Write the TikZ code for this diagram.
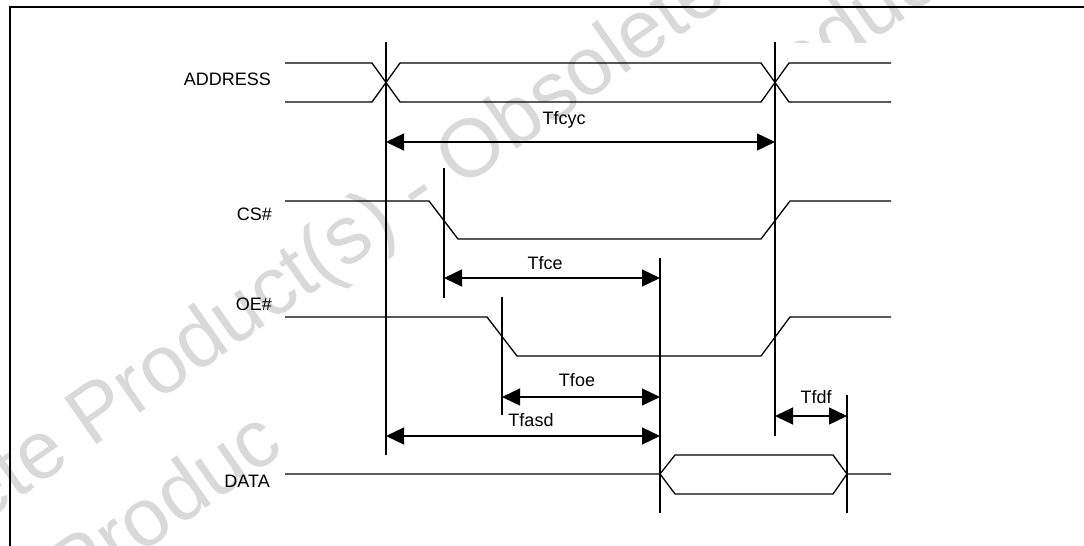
\documentclass[tikz,border=0pt]{standalone}
\usepackage{fontspec}
\setmainfont{Liberation Sans}
\usetikzlibrary{arrows.meta}

\begin{document}
\begin{tikzpicture}[x=1pt,y=-1pt,
  sig/.style={line width=1.3pt, line join=miter},
  vline/.style={line width=1.2pt},
  dim/.style={line width=1.3pt, {Triangle[length=18pt,width=17pt]}-{Triangle[length=18pt,width=17pt]}},
  lbl/.style={inner sep=0pt, font=\fontsize{18}{20}\selectfont, anchor=base east},
  tlbl/.style={inner sep=0pt, font=\fontsize{18}{20}\selectfont, anchor=base},
  wm/.style={inner sep=0pt, anchor=base west, text=black!15, rotate=35, font=\fontsize{82}{84}\selectfont}
]
\useasboundingbox (0,0) rectangle (1084,546);

% watermark, first line
\begin{scope}
  \clip (0,0) rectangle (1084,546);
  \node[wm] (wmA) at (-196.5,649.5) {Obsolete Product(s) - Obsolete Product(s)};
\end{scope}
% watermark, second line (only partly shown)
\begin{scope}
  \clip (0,0) rectangle (285,546);
  \begin{scope}[shift={(-214,802.5)}, rotate=35]
    \clip (-300,-200) rectangle (611,100);
    \node[wm] (wmB1) at (0,0) {Obsolete Product(s) - Obsolete Product(s)};
  \end{scope}
\end{scope}
\begin{scope}
  \clip (285,0) rectangle (1084,42);
  \node[wm] (wmB2) at (-214,802.5) {Obsolete Product(s) - Obsolete Product(s)};
\end{scope}
\begin{scope}
  \clip (891,42) rectangle (1084,546);
  \node[wm] (wmB3) at (-214,802.5) {Obsolete Product(s) - Obsolete Product(s)};
\end{scope}

% frame
\draw[line width=2.2pt] (10,546) -- (10,7) -- (1084,7);

% vertical reference lines
\coordinate (v1t) at (386,42);  \coordinate (v1b) at (386,455);
\coordinate (v2t) at (775,42);  \coordinate (v2b) at (775,436);
\coordinate (v3t) at (444,168); \coordinate (v3b) at (444,298);
\coordinate (v4t) at (502,297); \coordinate (v4b) at (502,415);
\coordinate (v5t) at (660,258); \coordinate (v5b) at (660,513);
\coordinate (v6t) at (847,395); \coordinate (v6b) at (847,513);
\foreach \v in {v1,v2,v3,v4,v5,v6} \draw[vline] (\v t) -- (\v b);

% signal labels
\node[lbl] (laddr) at (271,85) {ADDRESS};
\node[lbl] (lcs)   at (272,220) {CS\#};
\node[lbl] (loe)   at (272,310) {OE\#};
\node[lbl] (ldata) at (270,487) {DATA};

% ADDRESS
\draw[sig] (285,63) -- (372,63) -- (400,102) -- (761,102) -- (789,63) -- (891,63);
\draw[sig] (285,102) -- (372,102) -- (400,63) -- (761,63) -- (789,102) -- (891,102);

% CS#
\draw[sig] (285,201) -- (429,201) -- (458,239) -- (761,239) -- (790,201) -- (891,201);

% OE#
\draw[sig] (285,317) -- (487,317) -- (517,356) -- (761,356) -- (790,317) -- (891,317);

% DATA
\draw[sig] (285,474) -- (660,474) -- (675,455) -- (833,455) -- (847,474) -- (891,474);
\draw[sig] (660,474) -- (675,494) -- (833,494) -- (847,474);

% timing arrows
\coordinate (a1l) at (386,142); \coordinate (a1r) at (775,142);
\coordinate (a2l) at (444,278); \coordinate (a2r) at (660,278);
\coordinate (a3l) at (502,397); \coordinate (a3r) at (660,397);
\coordinate (a4l) at (386,436); \coordinate (a4r) at (660,436);
\coordinate (a5l) at (775,416); \coordinate (a5r) at (847,416);
\draw[dim] (a1l) -- (a1r);
\draw[dim] (a2l) -- (a2r);
\draw[dim] (a3l) -- (a3r);
\draw[dim] (a4l) -- (a4r);
\draw[dim] (a5l) -- (a5r);

\node[tlbl] (tfcyc) at (564,124) {Tfcyc};
\node[tlbl] (tfce)  at (545,269) {Tfce};
\node[tlbl] (tfoe)  at (577,386) {Tfoe};
\node[tlbl] (tfasd) at (531,426) {Tfasd};
\node[tlbl] (tfdf)  at (816,403) {Tfdf};
\end{tikzpicture}
\end{document}
